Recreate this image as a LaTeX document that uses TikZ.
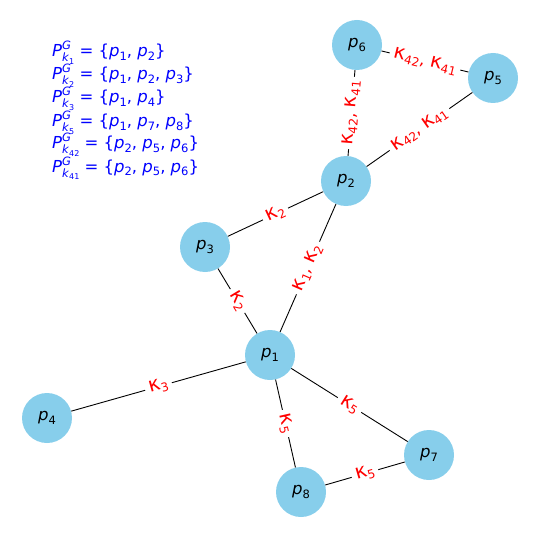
\documentclass[tikz,border=0pt]{standalone}
\usepackage{fontspec}
\setmainfont{DejaVu Sans}
\usepackage{xcolor}
\usetikzlibrary{positioning}

\definecolor{nodeblue}{HTML}{87CEEB}
\newcommand{\pv}[1]{\textit{p}\raisebox{-3.5pt}{\fontsize{11.5}{11.5}\selectfont #1}}
\newcommand{\kp}[1]{{\fontsize{20}{20}\selectfont κ}\raisebox{-3pt}{\fontsize{12}{12}\selectfont #1}}
\newcommand{\Pset}[2]{\textit{P}\rlap{\raisebox{7pt}{\fontsize{11.5}{11.5}\selectfont\textit{G}}}%
  \raisebox{-5pt}{\fontsize{11.5}{11.5}\selectfont\textit{k}\raisebox{-2.5pt}{\fontsize{8}{8}\selectfont #1}}\ = \{#2\}}

\begin{document}
\begin{tikzpicture}[
    x=1pt, y=-1pt,
    font=\fontsize{16.5}{19}\selectfont,
    peer/.style={circle, fill=nodeblue, minimum size=50pt, inner sep=0pt},
    link/.style={draw, line width=0.9pt},
    tag/.style={text=red, fill=white, inner xsep=4pt, inner ysep=1pt, sloped, midway},
    setline/.style={anchor=base west, text=blue, inner sep=0pt}
  ]
  \useasboundingbox (0,0) rectangle (540,540);

  % peers
  \node[peer] (p1) at (270,355) {\pv{1}};
  \node[peer] (p2) at (346,181) {\pv{2}};
  \node[peer] (p3) at (205,247) {\pv{3}};
  \node[peer] (p4) at (47,418)  {\pv{4}};
  \node[peer] (p5) at (493,78)  {\pv{5}};
  \node[peer] (p6) at (357,45)  {\pv{6}};
  \node[peer] (p7) at (429,455) {\pv{7}};
  \node[peer] (p8) at (301,492) {\pv{8}};

  % links
  \draw[link] (p1) -- node[tag] {\kp{1}, \kp{2}} (p2);
  \draw[link] (p3) -- node[tag] {\kp{2}} (p1);
  \draw[link] (p3) -- node[tag] {\kp{2}} (p2);
  \draw[link] (p4) -- node[tag] {\kp{3}} (p1);
  \draw[link] (p1) -- node[tag] {\kp{5}} (p8);
  \draw[link] (p1) -- node[tag] {\kp{5}} (p7);
  \draw[link] (p8) -- node[tag] {\kp{5}} (p7);
  \draw[link] (p2) -- node[tag] {\kp{42}, \kp{41}} (p6);
  \draw[link] (p2) -- node[tag] {\kp{42}, \kp{41}} (p5);
  \draw[link] (p6) -- node[tag] {\kp{42}, \kp{41}} (p5);

  % sets
  \node[setline] (s1) at (52,57)  {\Pset{1}{\pv{1}, \pv{2}}};
  \node[setline] (s2) at (52,80)  {\Pset{2}{\pv{1}, \pv{2}, \pv{3}}};
  \node[setline] (s3) at (52,103) {\Pset{3}{\pv{1}, \pv{4}}};
  \node[setline] (s4) at (52,127) {\Pset{5}{\pv{1}, \pv{7}, \pv{8}}};
  \node[setline] (s5) at (52,149) {\Pset{42}{\pv{2}, \pv{5}, \pv{6}}};
  \node[setline] (s6) at (52,172) {\Pset{41}{\pv{2}, \pv{5}, \pv{6}}};
\end{tikzpicture}
\end{document}
